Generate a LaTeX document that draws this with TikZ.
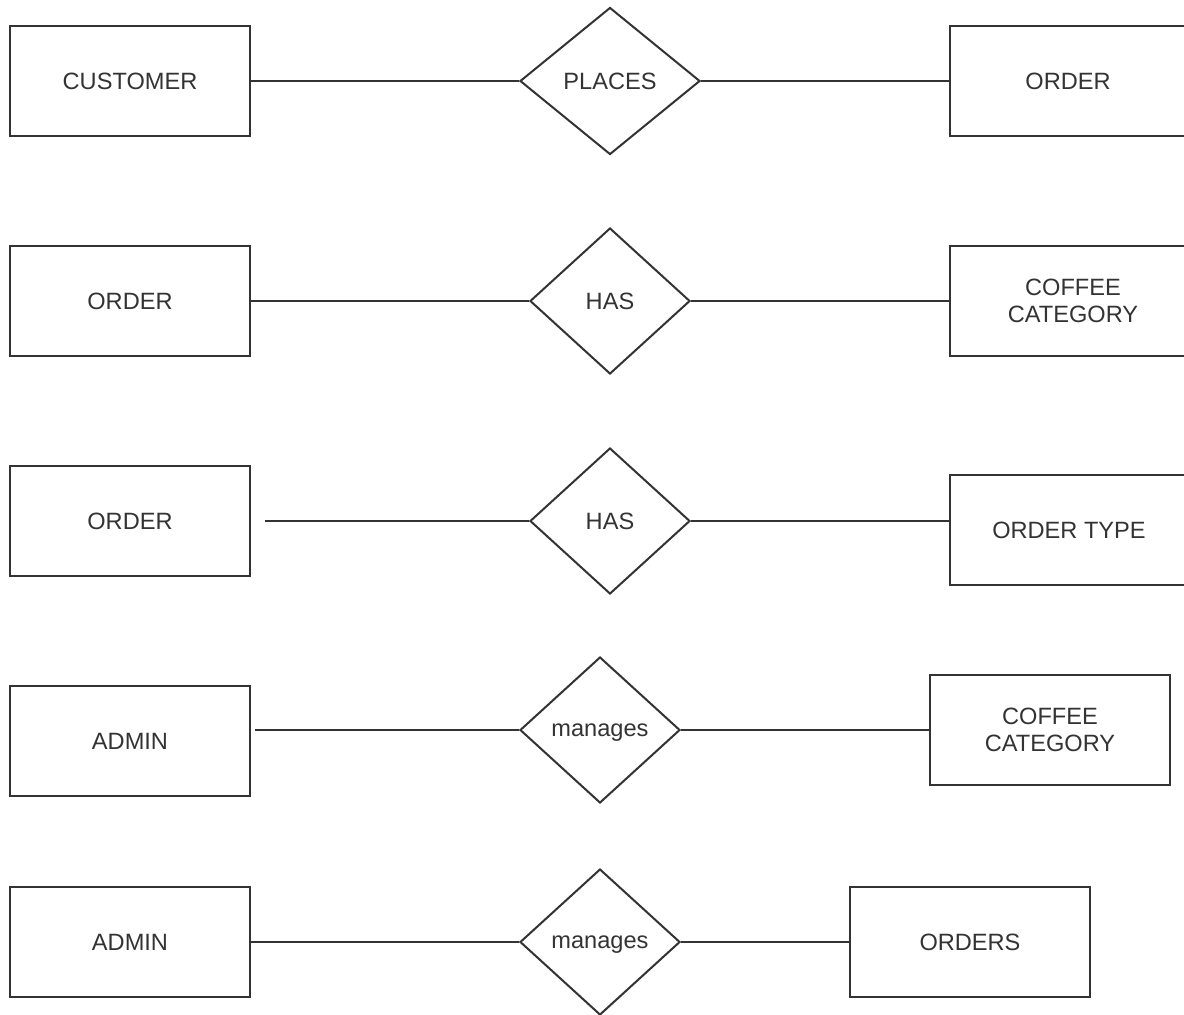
\documentclass[tikz,border=0pt]{standalone}
\usepackage{fontspec}
\setmainfont{Liberation Sans}
\usetikzlibrary{shapes.geometric}
\definecolor{ln}{HTML}{333333}
\definecolor{tx}{HTML}{333333}
\tikzset{
  ent/.style={draw=ln, line width=2pt, rectangle, minimum width=240pt, minimum height=110pt, inner sep=0pt, align=center, text=tx, font=\fontsize{23.6}{27}\selectfont},
  rel/.style={draw=ln, line width=2pt, diamond, minimum width=160pt, minimum height=146pt, inner sep=0pt, text depth=0pt, text=tx, font=\fontsize{23.6}{27}\selectfont},
  conn/.style={draw=ln, line width=2pt}
}
\begin{document}
\begin{tikzpicture}[x=1pt,y=-1pt]
\fill[white] (0,0) rectangle (1184,1015);
\useasboundingbox (0,0) rectangle (1184,1015);
\clip (0,0) rectangle (1184,1015);
% Row 1
\node[ent] (cust) at (130,81) {CUSTOMER};
\node[rel, minimum width=180pt, minimum height=147pt] (places) at (610,81) {PLACES};
\node[ent] (ord1) at (1070,81) {};
\node[text=tx, font=\fontsize{23.6}{27}\selectfont] (ord1t) at (1068,81) {ORDER};
\draw[conn] (cust.east) -- (places.west);
\draw[conn] (places.east) -- (ord1.west);
% Row 2
\node[ent] (ord2) at (130,301) {ORDER};
\node[rel] (has1) at (610,301) {HAS};
\node[ent] (cc1) at (1070,301) {};
\node[text=tx, font=\fontsize{23.6}{27}\selectfont, align=center] (cc1t) at (1073,301) {COFFEE\\CATEGORY};
\draw[conn] (ord2.east) -- (has1.west);
\draw[conn] (has1.east) -- (cc1.west);
% Row 3
\node[ent] (ord3) at (130,521) {ORDER};
\node[rel] (has2) at (610,521) {HAS};
\node[ent] (otype) at (1070,530) {};
\node[text=tx, font=\fontsize{23.6}{27}\selectfont] (otypet) at (1069,530) {ORDER TYPE};
\coordinate (s3) at (265,521);
\draw[conn] (s3) -- (has2.west);
\draw[conn] (has2.east) -- (has2.east -| otype.west);
% Row 4
\node[ent] (adm1) at (130,741) {ADMIN};
\node[rel] (man1) at (600,730) {manages};
\node[ent] (cc2) at (1050,730) {COFFEE\\CATEGORY};
\coordinate (s4) at (255,730);
\draw[conn] (s4) -- (man1.west);
\draw[conn] (man1.east) -- (cc2.west);
% Row 5
\node[ent] (adm2) at (130,942) {ADMIN};
\node[rel] (man2) at (600,942) {manages};
\node[ent] (ords) at (970,942) {ORDERS};
\draw[conn] (adm2.east) -- (man2.west);
\draw[conn] (man2.east) -- (ords.west);
\end{tikzpicture}
\end{document}
